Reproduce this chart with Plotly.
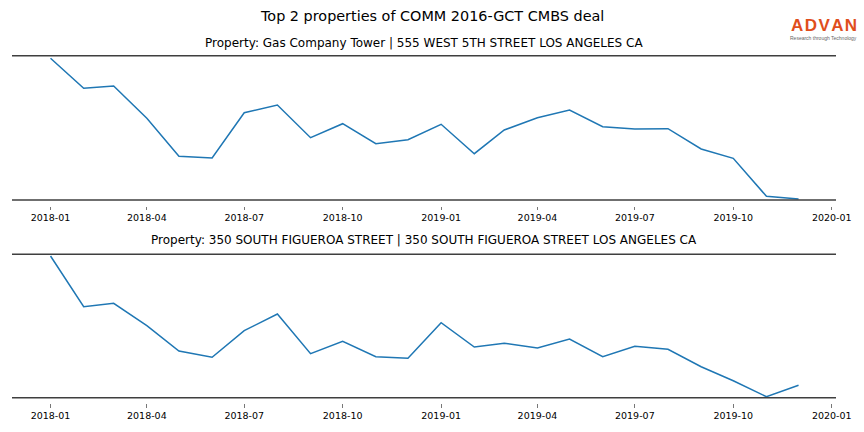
import plotly.graph_objects as go

months = ["2018-01-01","2018-02-01","2018-03-01","2018-04-01","2018-05-01","2018-06-01",
          "2018-07-01","2018-08-01","2018-09-01","2018-10-01","2018-11-01","2018-12-01",
          "2019-01-01","2019-02-01","2019-03-01","2019-04-01","2019-05-01","2019-06-01",
          "2019-07-01","2019-08-01","2019-09-01","2019-10-01","2019-11-01","2019-12-01"]

gas_company = [141.7, 111.7, 114, 81.7, 43.7, 42, 87.3, 95, 62.3, 76.3, 56.3, 60.3,
               75.7, 46.3, 70, 82.3, 90, 73.3, 71, 71.3, 51, 41.7, 3.7, 1]
figueroa = [141.7, 91, 94.4, 72, 46.7, 40.4, 67, 83.7, 44, 56.4, 41, 39.4,
            75, 50.7, 54.4, 49.7, 58.7, 41, 51.4, 48.4, 31, 17, 1, 12.4]

tick_vals = ["2018-01-01","2018-04-01","2018-07-01","2018-10-01","2019-01-01",
             "2019-04-01","2019-07-01","2019-10-01","2020-01-01"]
tick_text = ["2018-01","2018-04","2018-07","2018-10","2019-01",
             "2019-04","2019-07","2019-10","2020-01"]

title = "Top 2 properties of COMM 2016-GCT CMBS deal"
sub1 = "Property: Gas Company Tower | 555 WEST 5TH STREET LOS ANGELES CA"
sub2 = "Property: 350 SOUTH FIGUEROA STREET | 350 SOUTH FIGUEROA STREET LOS ANGELES CA"
logo = "A\u200aD\u200aV\u200aA\u200aN"
tagline = "Research through Technology"

W, H = 864, 432
font = "DejaVu Sans"
line_color = "#1f77b4"
spine_color = "#3f3f3f"

fig = go.Figure()
fig.add_trace(go.Scatter(x=months, y=gas_company, mode="lines",
                         line=dict(color=line_color, width=1.5), xaxis="x", yaxis="y",
                         showlegend=False, hoverinfo="skip"))
fig.add_trace(go.Scatter(x=months, y=figueroa, mode="lines",
                         line=dict(color=line_color, width=1.5), xaxis="x2", yaxis="y2",
                         showlegend=False, hoverinfo="skip"))

xdom = [12 / W, 836 / W]
xrange = ["2017-11-26", "2020-01-05"]

# panel pixel bounds (top, bottom)
p1 = (55.7, 200.0)
p2 = (254.3, 397.7)

def xaxis_cfg(bottom_px):
    return dict(domain=xdom, range=xrange, type="date", anchor="free",
                position=(H - (bottom_px + 5.5)) / H,
                tickvals=tick_vals, ticktext=tick_text, automargin=False,
                showline=False, ticks="outside", ticklen=3.5, tickwidth=0.8,
                tickcolor="#777777", showgrid=False, zeroline=False,
                tickfont=dict(family=font, size=9.5, color="black"))

def yaxis_cfg(bounds, rng):
    return dict(domain=[(H - bounds[1]) / H, (H - bounds[0]) / H], range=rng,
                showticklabels=False, showgrid=False, zeroline=False,
                showline=False, ticks="", automargin=False)

def spine(xref, yref, yv):
    return dict(type="line", xref=xref, yref=yref, x0=0, x1=1, y0=yv, y1=yv,
                line=dict(color=spine_color, width=1.6), layer="above")

fig.update_layout(
    width=W, height=H, autosize=False,
    margin=dict(l=0, r=0, t=0, b=0, pad=0),
    paper_bgcolor="white", plot_bgcolor="white",
    font=dict(family=font),
    xaxis=xaxis_cfg(p1[1]),
    yaxis=yaxis_cfg(p1, [0, 144.3]),
    xaxis2=xaxis_cfg(p2[1]),
    yaxis2=yaxis_cfg(p2, [0, 143.4]),
    shapes=[spine("x domain", "y domain", 0), spine("x domain", "y domain", 1),
            spine("x2 domain", "y2 domain", 0), spine("x2 domain", "y2 domain", 1)],
    annotations=[
        dict(text=title, x=432 / W, y=1 - 15.5 / H, xref="paper", yref="paper",
             showarrow=False, xanchor="center", yanchor="middle",
             font=dict(family=font, size=14.4, color="black")),
        dict(text=sub1, x=424 / W, y=1 - 42.5 / H, xref="paper", yref="paper",
             showarrow=False, xanchor="center", yanchor="middle",
             font=dict(family=font, size=12, color="black")),
        dict(text=sub2, x=424 / W, y=1 - 240.5 / H, xref="paper", yref="paper",
             showarrow=False, xanchor="center", yanchor="middle",
             font=dict(family=font, size=12, color="black")),
        dict(text="<b>" + logo + "</b>", x=823.5 / W, y=1 - 25.5 / H, xref="paper", yref="paper",
             showarrow=False, xanchor="center", yanchor="middle",
             font=dict(family="Liberation Sans", size=17, color="#E04E1C")),
        dict(text=tagline, x=823.5 / W, y=1 - 38 / H,
             xref="paper", yref="paper", showarrow=False, xanchor="center",
             yanchor="middle", font=dict(family="Liberation Sans", size=5, color="#666666")),
    ],
)

post = """
var gd = document.getElementById('{plot_id}');
var de = document.documentElement, b = document.body;
de.style.margin = '0'; de.style.padding = '0'; de.style.overflow = 'hidden';
de.style.height = '432px'; de.style.width = '864px';
b.style.margin = '0'; b.style.padding = '0'; b.style.overflow = 'hidden';
b.style.height = '432px'; b.style.width = '864px';
var p = gd.parentElement;
p.style.height = '432px'; p.style.width = '864px'; p.style.overflow = 'hidden';
p.style.margin = '0'; p.style.padding = '0'; p.style.lineHeight = '0'; p.style.fontSize = '0';
gd.style.display = 'block';
"""

fig.write_html("out.html", config={"displayModeBar": False}, post_script=post)
